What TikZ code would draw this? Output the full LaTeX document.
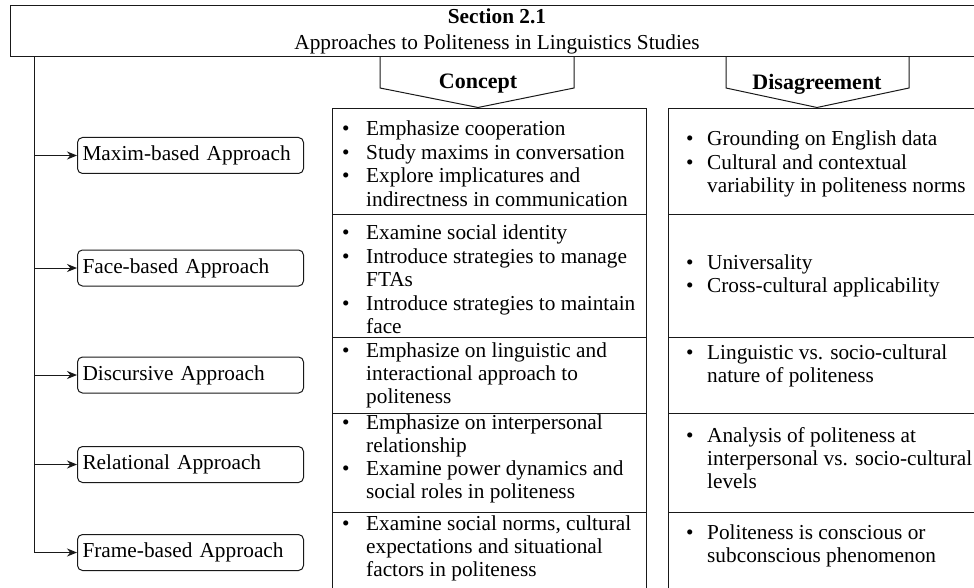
\documentclass[tikz,border=0pt]{standalone}
\usepackage{fontspec}
\setmainfont{Liberation Serif}
\usetikzlibrary{arrows.meta}
\newcommand{\cbul}{\makebox[24pt][l]{\textbullet}}
\newcommand{\ccont}{\hspace*{24pt}}
\newcommand{\dbul}{\makebox[21pt][l]{\textbullet}}
\newcommand{\dcont}{\hspace*{21pt}}
\tikzset{
  ln/.style={line width=1pt, draw=black!90},
  appr/.style={ln, draw, rounded corners=5pt, minimum width=226pt, minimum height=36pt,
    text width=216pt, inner xsep=5pt, inner ysep=0pt, align=left, anchor=west,
    font=\fontsize{21.3}{23}\selectfont},
  cell/.style={ln, draw, anchor=north west, inner sep=0pt},
  txt/.style={anchor=west, align=left, inner sep=0pt, font=\fontsize{21.3}{23}\selectfont},
  txtw/.style={anchor=west, align=left, inner sep=0pt, font=\fontsize{21.3}{23.5}\selectfont},
  arr/.style={ln, -{Stealth[length=10pt,width=8pt]}},
  head/.style={font=\bfseries\fontsize{22}{24}\selectfont, inner sep=0pt},
}
\begin{document}
\begin{tikzpicture}[x=1pt,y=-1pt]
\clip (0,0) rectangle (974,588);
\fill[white] (0,0) rectangle (974,588);

% title
\node[ln, draw, minimum width=974pt, minimum height=51pt, inner sep=0pt, align=center,
  font=\fontsize{21.3}{26}\selectfont] (title) at (497,31.5)
  {\textbf{Section 2.1}\\Approaches to Politeness in Linguistics Studies};

% chevrons
\draw[ln] (380,57) -- (380,88) -- (478,107.5) -- (574,88) -- (574,57);
\node[head] (hconcept) at (478,84) {Concept};
\draw[ln] (726,57) -- (726,88) -- (817,107.5) -- (909,88) -- (909,57);
\node[head] (hdis) at (817,84) {Disagreement};

% approach boxes
\node[appr] (maxim) at (77,155.5) {Maxim-based Approach};
\node[appr] (face) at (77,268) {Face-based Approach};
\node[appr] (disc) at (77,375) {Discursive Approach};
\node[appr] (rel) at (77,464.5) {Relational Approach};
\node[appr] (frame) at (77,552.5) {Frame-based Approach};

% trunk and arrows
\coordinate (trunk) at (34,57);
\draw[arr] (trunk) |- (frame.west);
\draw[arr] (trunk |- maxim.west) -- (maxim.west);
\draw[arr] (trunk |- face.west) -- (face.west);
\draw[arr] (trunk |- disc.west) -- (disc.west);
\draw[arr] (trunk |- rel.west) -- (rel.west);

% concept cells
\node[cell, minimum width=314pt, minimum height=106pt] (c1) at (332,108) {};
\node[cell, minimum width=314pt, minimum height=123pt] (c2) at (332,214) {};
\node[cell, minimum width=314pt, minimum height=76pt] (c3) at (332,337) {};
\node[cell, minimum width=314pt, minimum height=99pt] (c4) at (332,413) {};
\node[cell, minimum width=314pt, minimum height=80pt] (c5) at (332,512) {};

% disagreement cells
\node[cell, minimum width=320pt, minimum height=106pt] (d1) at (668,108) {};
\node[cell, minimum width=320pt, minimum height=123pt] (d2) at (668,214) {};
\node[cell, minimum width=320pt, minimum height=76pt] (d3) at (668,337) {};
\node[cell, minimum width=320pt, minimum height=99pt] (d4) at (668,413) {};
\node[cell, minimum width=320pt, minimum height=80pt] (d5) at (668,512) {};

% concept texts
\node[txtw] (ct1) at (342,163.5) {\cbul Emphasize cooperation\\
  \cbul Study maxims in conversation\\
  \cbul Explore implicatures and\\
  \ccont indirectness in communication};
\node[txtw] (ct2) at (342,279.5) {\cbul Examine social identity\\
  \cbul Introduce strategies to manage\\
  \ccont FTAs\\
  \cbul Introduce strategies to maintain\\
  \ccont face};
\node[txt] (ct3) at (342,375) {\cbul Emphasize on linguistic and\\
  \ccont interactional approach to\\
  \ccont politeness};
\node[txt] (ct4) at (342,458.5) {\cbul Emphasize on interpersonal\\
  \ccont relationship\\
  \cbul Examine power dynamics and\\
  \ccont social roles in politeness};
\node[txt] (ct5) at (342,548) {\cbul Examine social norms, cultural\\
  \ccont expectations and situational\\
  \ccont factors in politeness};

% disagreement texts
\node[txtw] (dt1) at (686,164) {\dbul Grounding on English data\\
  \dbul Cultural and contextual\\
  \dcont variability in politeness norms};
\node[txt] (dt2) at (686,275.5) {\dbul Universality\\
  \dbul Cross-cultural applicability};
\node[txt] (dt3) at (686,365.5) {\dbul Linguistic vs. socio-cultural\\
  \dcont nature of politeness};
\node[txt] (dt4) at (686,458) {\dbul Analysis of politeness at\\
  \dcont interpersonal vs. socio-cultural\\
  \dcont levels};
\node[txt] (dt5) at (686,546) {\dbul Politeness is conscious or\\
  \dcont subconscious phenomenon};
\end{tikzpicture}
\end{document}
